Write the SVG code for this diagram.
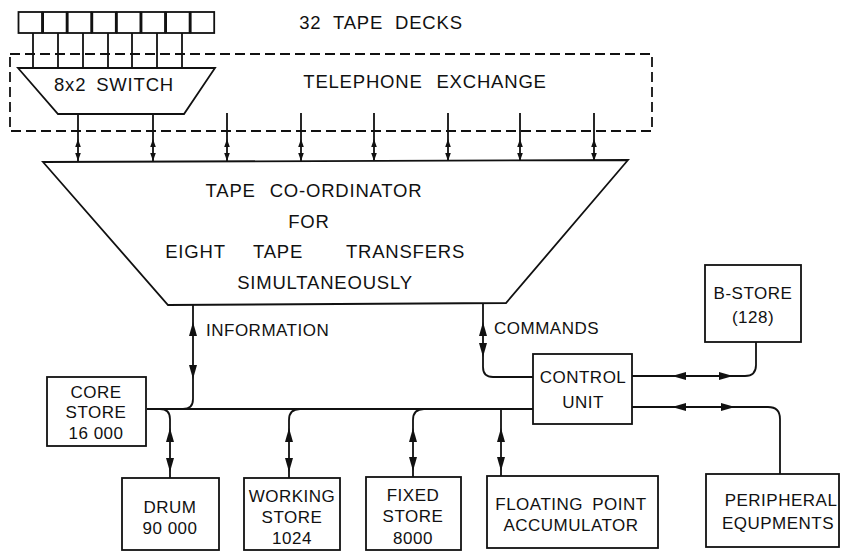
<svg xmlns="http://www.w3.org/2000/svg" width="841" height="552" viewBox="0 0 841 552">
<style>
.ln{fill:none;stroke:#111;stroke-width:1.8}
.dash{fill:none;stroke:#111;stroke-width:1.8;stroke-dasharray:10 5}
.bx{fill:#fff;stroke:#111;stroke-width:1.8}
text{font-family:"Liberation Sans",Arial,sans-serif;fill:#111;text-anchor:middle}
.t18{font-size:18.5px;letter-spacing:0.8px}
.t17{font-size:17px;letter-spacing:0.5px}
.st{text-anchor:start}
.ah{fill:#111}
</style>
<defs>
<path id="as" d="M0,0 L-2.8,-8 L2.8,-8 Z"/>
<path id="al" d="M0,0 L-4,-14 L4,-14 Z"/>
</defs>
<rect x="0" y="0" width="841" height="552" fill="#fff"/>

<g id="telephone-exchange">
<rect class="dash" x="10" y="54" width="642" height="77"/>
<text class="t18" x="425" y="88" word-spacing="8">TELEPHONE EXCHANGE</text>
</g>

<g id="tape-decks">
<rect class="bx" x="18.5" y="12" width="23.5" height="21"/>
<rect class="bx" x="43.1" y="12" width="23.5" height="21"/>
<rect class="bx" x="67.7" y="12" width="23.5" height="21"/>
<rect class="bx" x="92.3" y="12" width="23.5" height="21"/>
<rect class="bx" x="116.9" y="12" width="23.5" height="21"/>
<rect class="bx" x="141.5" y="12" width="23.5" height="21"/>
<rect class="bx" x="166.1" y="12" width="23.5" height="21"/>
<rect class="bx" x="190.7" y="12" width="23.5" height="21"/>
<text class="t18" x="381" y="28.5" word-spacing="6">32 TAPE DECKS</text>
</g>

<g id="connectors">
<path class="ln" d="M33,33V68 M58,33V68 M83,33V68 M108,33V68 M132,33V68 M157,33V68 M182,33V68"/>
<path class="ln" d="M78,114V161 M153,114V161 M227,113V161 M301,113V161 M374,113V161 M448,113V161 M520,113V161 M594,113V161"/>
<g class="ah">
<use href="#as" transform="translate(78,139) rotate(180)"/><use href="#as" transform="translate(78,161)"/>
<use href="#as" transform="translate(153,139) rotate(180)"/><use href="#as" transform="translate(153,161)"/>
<use href="#as" transform="translate(227,139) rotate(180)"/><use href="#as" transform="translate(227,161)"/>
<use href="#as" transform="translate(301,139) rotate(180)"/><use href="#as" transform="translate(301,161)"/>
<use href="#as" transform="translate(374,139) rotate(180)"/><use href="#as" transform="translate(374,161)"/>
<use href="#as" transform="translate(448,139) rotate(180)"/><use href="#as" transform="translate(448,161)"/>
<use href="#as" transform="translate(520,139) rotate(180)"/><use href="#as" transform="translate(520,161)"/>
<use href="#as" transform="translate(594,139) rotate(180)"/><use href="#as" transform="translate(594,161)"/>
</g>
<path class="ln" d="M193,305V399Q193,409 183,409 M147,409H533"/>
<path class="ln" d="M160,409Q170,409 170,419V478 M300,409Q289,409 289,420V478 M424,409Q413,409 413,420V477 M501,409V477"/>
<path class="ln" d="M483,304V367Q483,377 493,377H533"/>
<path class="ln" d="M632,376H745Q756,376 756,365V342 M632,407H768Q780,407 780,419V474"/>
<g class="ah">
<use href="#al" transform="translate(193,322) rotate(180)"/><use href="#al" transform="translate(193,379)"/>
<use href="#al" transform="translate(170,428) rotate(180)"/><use href="#al" transform="translate(170,472)"/>
<use href="#al" transform="translate(289,428) rotate(180)"/><use href="#al" transform="translate(289,472)"/>
<use href="#al" transform="translate(413,428) rotate(180)"/><use href="#al" transform="translate(413,471)"/>
<use href="#al" transform="translate(501,428) rotate(180)"/><use href="#al" transform="translate(501,471)"/>
<use href="#al" transform="translate(483,322) rotate(180)"/><use href="#al" transform="translate(483,357)"/>
<use href="#al" transform="translate(672,376) rotate(90)"/><use href="#al" transform="translate(733,376) rotate(-90)"/>
<use href="#al" transform="translate(672,407) rotate(90)"/><use href="#al" transform="translate(735,407) rotate(-90)"/>
</g>
<text class="t17 st" x="206" y="336">INFORMATION</text>
<text class="t17 st" x="494" y="334">COMMANDS</text>
</g>

<g id="switch">
<polygon class="bx" points="18,68 215,68 184,114 58,114"/>
<text class="t18" x="114" y="91" word-spacing="4">8x2 SWITCH</text>
</g>

<g id="tape-coordinator">
<polygon class="bx" points="43,162 628,160 506,303 168,305"/>
<text class="t18" x="314" y="196.5" word-spacing="8">TAPE CO-ORDINATOR</text>
<text class="t18" x="309" y="227.5">FOR</text>
<text class="t18" x="195.5" y="258">EIGHT</text>
<text class="t18" x="278" y="258">TAPE</text>
<text class="t18" x="405.5" y="258">TRANSFERS</text>
<text class="t18" x="325" y="288.5">SIMULTANEOUSLY</text>
</g>

<g id="core-store">
<rect class="bx" x="47" y="377" width="99" height="69"/>
<text class="t17" x="96" y="398">CORE</text>
<text class="t17" x="96" y="418">STORE</text>
<text class="t17" x="96" y="439">16 000</text>
</g>

<g id="drum">
<rect class="bx" x="122" y="478" width="97" height="72"/>
<text class="t17" x="170" y="513">DRUM</text>
<text class="t17" x="170" y="534">90 000</text>
</g>

<g id="working-store">
<rect class="bx" x="244" y="478" width="96" height="72"/>
<text class="t17" x="292" y="502">WORKING</text>
<text class="t17" x="292" y="523">STORE</text>
<text class="t17" x="292" y="544">1024</text>
</g>

<g id="fixed-store">
<rect class="bx" x="366" y="477" width="95" height="73"/>
<text class="t17" x="413" y="501">FIXED</text>
<text class="t17" x="413" y="522">STORE</text>
<text class="t17" x="413" y="544">8000</text>
</g>

<g id="floating-point">
<rect class="bx" x="487" y="476" width="171" height="72"/>
<text class="t17" x="571" y="510" word-spacing="4">FLOATING POINT</text>
<text class="t17" x="571" y="531">ACCUMULATOR</text>
</g>

<g id="control-unit">
<rect class="bx" x="533" y="354" width="99" height="70"/>
<text class="t17" x="583" y="383">CONTROL</text>
<text class="t17" x="583" y="408">UNIT</text>
</g>

<g id="b-store">
<rect class="bx" x="705" y="265" width="96" height="77"/>
<text class="t17" x="753" y="299">B-STORE</text>
<text class="t17" x="753" y="323">(128)</text>
</g>

<g id="peripheral">
<rect class="bx" x="706" y="474" width="133" height="73"/>
<text class="t17" x="781" y="506">PERIPHERAL</text>
<text class="t17" x="778" y="529">EQUPMENTS</text>
</g>
</svg>
